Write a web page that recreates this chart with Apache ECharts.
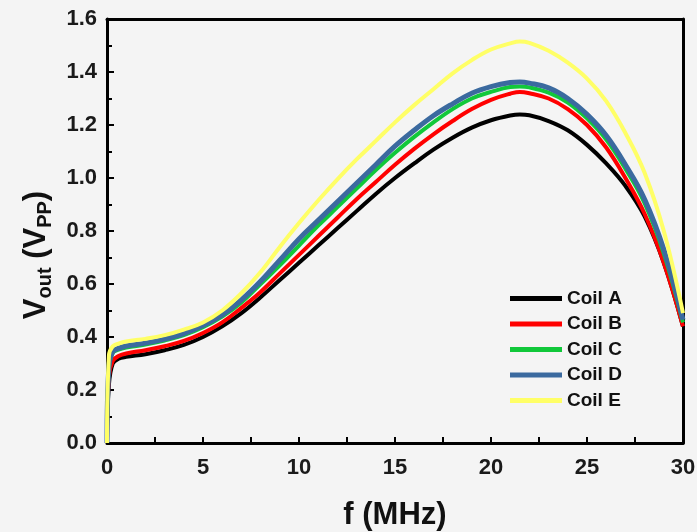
<!DOCTYPE html>
<html>
<head>
<meta charset="utf-8">
<script src="https://cdn.jsdelivr.net/npm/echarts@6/dist/echarts.min.js"></script>
<style>
  html, body { margin: 0; padding: 0; background: #f4f4f4; }
  #main { width: 697px; height: 532px; }
</style>
</head>
<body>
<div id="main"></div>
<script>
// frequency (MHz) shared by all coils
var freq = [0, 0.1, 0.3, 0.6, 1, 2, 3, 4, 5, 6, 7, 8, 9, 10, 11, 12, 13, 14, 15, 16,
  17, 18, 19, 20, 21, 21.5, 22, 23, 24, 25, 26, 27, 28, 29, 30];

// Vout (Vpp)
var coilA = [0, 0.22, 0.30, 0.318, 0.325, 0.335, 0.35, 0.37, 0.40, 0.44, 0.49, 0.55, 0.615, 0.68, 0.745, 0.81, 0.875, 0.94, 1.00, 1.055,
  1.107, 1.152, 1.19, 1.218, 1.236, 1.24, 1.237, 1.215, 1.18, 1.125, 1.055, 0.97, 0.855, 0.68, 0.44];
var coilB = [0, 0.25, 0.31, 0.328, 0.338, 0.35, 0.365, 0.385, 0.415, 0.455, 0.51, 0.57, 0.64, 0.71, 0.78, 0.85, 0.92, 0.985, 1.05, 1.11,
  1.165, 1.215, 1.26, 1.295, 1.318, 1.325, 1.32, 1.30, 1.26, 1.20, 1.115, 1.0, 0.865, 0.68, 0.44];
var coilC = [0, 0.28, 0.34, 0.352, 0.36, 0.372, 0.387, 0.407, 0.437, 0.477, 0.53, 0.60, 0.67, 0.745, 0.82, 0.89, 0.96, 1.03, 1.095, 1.155,
  1.21, 1.26, 1.30, 1.325, 1.343, 1.345, 1.342, 1.322, 1.285, 1.225, 1.145, 1.035, 0.905, 0.715, 0.455];
var coilD = [0, 0.29, 0.345, 0.357, 0.366, 0.377, 0.392, 0.413, 0.443, 0.483, 0.54, 0.61, 0.69, 0.77, 0.84, 0.91, 0.98, 1.05, 1.12, 1.18,
  1.235, 1.28, 1.32, 1.345, 1.36, 1.362, 1.358, 1.34, 1.30, 1.24, 1.16, 1.05, 0.92, 0.73, 0.465];
var coilE = [0, 0.33, 0.365, 0.375, 0.383, 0.393, 0.407, 0.428, 0.455, 0.50, 0.565, 0.645, 0.74, 0.83, 0.915, 0.995, 1.07, 1.14, 1.21, 1.275,
  1.335, 1.395, 1.445, 1.485, 1.508, 1.515, 1.51, 1.48, 1.435, 1.375, 1.29, 1.17, 1.02, 0.80, 0.49];

var names = ['Coil A', 'Coil B', 'Coil C', 'Coil D', 'Coil E'];
var colors = ['#000000', '#ff0000', '#11c83a', '#3b6a9f', '#ffff66'];
var widths = [4, 4, 4, 5, 4];

var myChart = echarts.init(document.getElementById('main'));

function pairs(ys) {
  return freq.map(function (x, i) { return [x, ys[i]]; });
}

var font = '"Liberation Sans", Arial, sans-serif';

myChart.setOption({
  backgroundColor: '#f4f4f4',
  animation: false,
  grid: { left: 107, right: 14, top: 19, bottom: 89, outerBoundsMode: 'none' },
  legend: {
    orient: 'vertical',
    left: 505,
    top: 284,
    itemWidth: 52,
    itemHeight: 5,
    itemGap: 6.5,
    icon: 'rect',
    textStyle: { fontFamily: font, fontWeight: 'bold', fontSize: 19, color: '#111' },
    data: names
  },
  xAxis: [{
    type: 'value',
    min: 0, max: 30, interval: 5,
    name: 'f (MHz)',
    nameLocation: 'middle',
    nameGap: 57,
    nameTextStyle: { fontFamily: font, fontWeight: 'bold', fontSize: 31, color: '#111' },
    axisLine: { lineStyle: { color: '#000', width: 3 } },
    axisTick: { inside: true, length: 6, lineStyle: { color: '#000', width: 2 } },
    minorTick: { show: true, splitNumber: 2, length: 6, lineStyle: { color: '#000', width: 2 } },
    axisLabel: { fontFamily: font, fontWeight: 'bold', fontSize: 22, color: '#1a1a1a', margin: 14 },
    splitLine: { show: false }
  }, {
    type: 'value', position: 'top', min: 0, max: 30,
    axisLine: { show: true, onZero: false, lineStyle: { color: '#000', width: 3 } },
    axisTick: { show: false }, axisLabel: { show: false }, splitLine: { show: false }
  }],
  yAxis: [{
    type: 'value',
    min: 0, max: 1.6, interval: 0.2,
    name: '{a|V}{b|out}{a| (V}{b|PP}{a|)}',
    nameLocation: 'middle',
    nameGap: 54,
    nameTextStyle: {
      padding: [0, 48, 0, 0],
      rich: {
        a: { fontFamily: font, fontWeight: 'bold', fontSize: 31, color: '#111', lineHeight: 32 },
        b: { fontFamily: font, fontWeight: 'bold', fontSize: 20, color: '#111', lineHeight: 20, padding: [18, 0, 0, 0] }
      }
    },
    axisLine: { show: true, lineStyle: { color: '#000', width: 3 } },
    axisTick: { inside: true, length: 7, lineStyle: { color: '#000', width: 2 } },
    minorTick: { show: true, splitNumber: 2, length: 5, lineStyle: { color: '#000', width: 2 } },
    axisLabel: {
      fontFamily: font, fontWeight: 'bold', fontSize: 22, color: '#1a1a1a', margin: 10,
      formatter: function (v) { return v.toFixed(1); }
    },
    splitLine: { show: false }
  }, {
    type: 'value', position: 'right', min: 0, max: 1.6,
    axisLine: { show: true, onZero: false, lineStyle: { color: '#000', width: 3 } },
    axisTick: { show: false }, axisLabel: { show: false }, splitLine: { show: false }
  }],
  series: [coilA, coilB, coilC, coilD, coilE].map(function (ys, i) {
    return {
      name: names[i],
      type: 'line',
      data: pairs(ys),
      smooth: 0.4,
      showSymbol: false,
      color: colors[i],
      lineStyle: { color: colors[i], width: widths[i] }
    };
  })
});
</script>
</body>
</html>
